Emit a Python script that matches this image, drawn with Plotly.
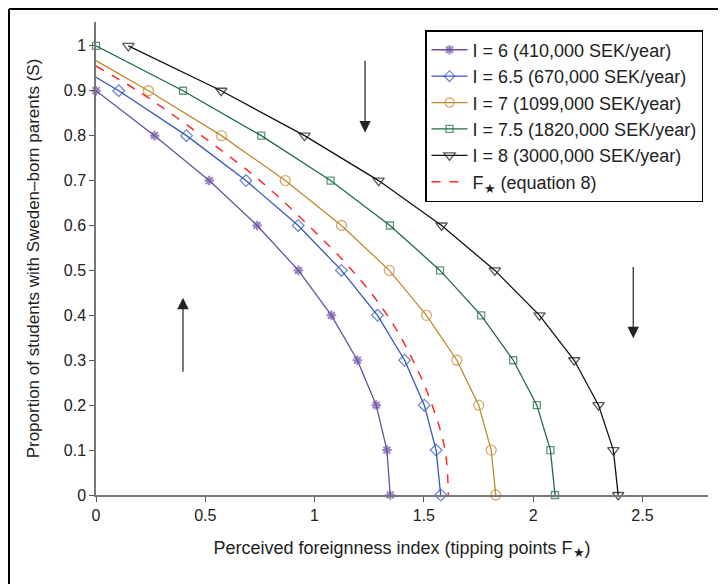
import plotly.graph_objects as go

# ---- data ----
s_levels = [0.9, 0.8, 0.7, 0.6, 0.5, 0.4, 0.3, 0.2, 0.1, 0.0]

i6_x = [0, 0.268, 0.518, 0.737, 0.926, 1.077, 1.196, 1.282, 1.331, 1.346]
i6_y = s_levels

i65_x = [0, 0.104, 0.414, 0.686, 0.925, 1.123, 1.288, 1.412, 1.502, 1.556, 1.577]
i65_y = [0.93] + s_levels

i7_x = [0, 0.240, 0.574, 0.866, 1.123, 1.342, 1.512, 1.651, 1.751, 1.808, 1.829]
i7_y = [0.967] + s_levels

i75_x = [0, 0.398, 0.756, 1.073, 1.345, 1.574, 1.762, 1.909, 2.017, 2.079, 2.100]
i75_y = [1.0] + s_levels

i8_x = [0.148, 0.573, 0.954, 1.293, 1.581, 1.825, 2.029, 2.188, 2.299, 2.367, 2.389]
i8_y = [1.0] + s_levels

fstar_x = [0, 0.19, 0.483, 0.75, 0.972, 1.172, 1.333, 1.45, 1.538, 1.597, 1.612]
fstar_y = [0.955] + s_levels

names = [
    "I = 6 (410,000 SEK/year)",
    "I = 6.5 (670,000 SEK/year)",
    "I = 7 (1099,000 SEK/year)",
    "I = 7.5 (1820,000 SEK/year)",
    "I = 8 (3000,000 SEK/year)",
    "F<sub>★</sub> (equation 8)",
]

# arrows: (tip_x, tip_y, tail_x, tail_y)
arrows = [
    (1.231, 0.807, 1.231, 0.970),
    (0.398, 0.439, 0.398, 0.271),
    (2.458, 0.349, 2.458, 0.511),
]

x_ticks = [0, 0.5, 1, 1.5, 2, 2.5]
x_ticktext = ["0", "0.5", "1", "1.5", "2", "2.5"]
y_ticks = [0, 0.1, 0.2, 0.3, 0.4, 0.5, 0.6, 0.7, 0.8, 0.9, 1.0]
y_ticktext = ["0", "0.1", "0.2", "0.3", "0.4", "0.5", "0.6", "0.7", "0.8", "0.9", "1"]

# ---- figure ----
FONT = "Liberation Sans, Arial, Helvetica, sans-serif"
fig = go.Figure()

def add_series(x, y, name, color, symbol, size, first_marker=True, mlw=1.3):
    sizes = [size] * len(x)
    if not first_marker:
        sizes[0] = 0
    fig.add_trace(go.Scatter(
        x=x, y=y, name=name, mode="lines+markers",
        line=dict(color=color, width=1.3),
        marker=dict(symbol=symbol, size=sizes, color=color,
                    line=dict(color=color, width=mlw)),
        cliponaxis=False,
    ))

add_series(i6_x, i6_y, names[0], "#6a4fa3", "asterisk-open", 8, mlw=2)
add_series(i65_x, i65_y, names[1], "#3358b8", "diamond-open", 9, first_marker=False)
add_series(i7_x, i7_y, names[2], "#c08a2e", "circle-open", 10, first_marker=False)
add_series(i75_x, i75_y, names[3], "#1f6b45", "square-open", 7)
add_series(i8_x, i8_y, names[4], "#111111", "triangle-down-open", 10)

fig.add_trace(go.Scatter(
    x=fstar_x, y=fstar_y, name=names[5], mode="lines",
    line=dict(color="#ff2a2a", width=1.5, dash="dash", shape="spline"),
    cliponaxis=False,
))

for tx, ty, ax, ay in arrows:
    fig.add_annotation(
        x=tx, y=ty, ax=ax, ay=ay, xref="x", yref="y", axref="x", ayref="y",
        text="", showarrow=True, arrowhead=2, arrowsize=1.9, arrowwidth=1.2,
        arrowcolor="#222222",
    )

# outer frame (top and left edges visible in the reference)
fig.add_shape(type="line", xref="paper", yref="paper",
              x0=-0.1422, x1=1.1, y0=1.0275, y1=1.0275,
              line=dict(color="black", width=2))
fig.add_shape(type="line", xref="paper", yref="paper",
              x0=-0.1422, x1=-0.1422, y0=1.0275, y1=-0.3,
              line=dict(color="black", width=2))

axis_common = dict(
    showgrid=False, zeroline=False, showline=True, linecolor="#777777",
    linewidth=1.5, ticks="outside", ticklen=5, tickcolor="#555555",
    tickfont=dict(family=FONT, size=16, color="#222222"),
    automargin=False,
)

fig.update_layout(
    width=726, height=584,
    margin=dict(l=88, r=26, t=14, b=97),
    paper_bgcolor="white", plot_bgcolor="white",
    font=dict(family=FONT, size=16, color="#222222"),
    xaxis=dict(range=[0, 2.8], tickvals=x_ticks, ticktext=x_ticktext,
               title=dict(text="Perceived foreignness index (tipping points F<sub>★</sub>)",
                          font=dict(family=FONT, size=18, color="#222222"), standoff=18),
               **axis_common),
    yaxis=dict(range=[0, 1.053], tickvals=y_ticks, ticktext=y_ticktext,
               title=dict(text="Proportion of students with Sweden–born parents (S)",
                          font=dict(family=FONT, size=17, color="#222222"), standoff=20),
               **axis_common),
    legend=dict(x=0.5376, y=0.983, xanchor="left", yanchor="top",
                bgcolor="white", bordercolor="black", borderwidth=1.5,
                font=dict(family=FONT, size=18, color="#222222"),
                itemwidth=36, tracegroupgap=0),
    showlegend=True,
)

fig.write_html("out.html")
